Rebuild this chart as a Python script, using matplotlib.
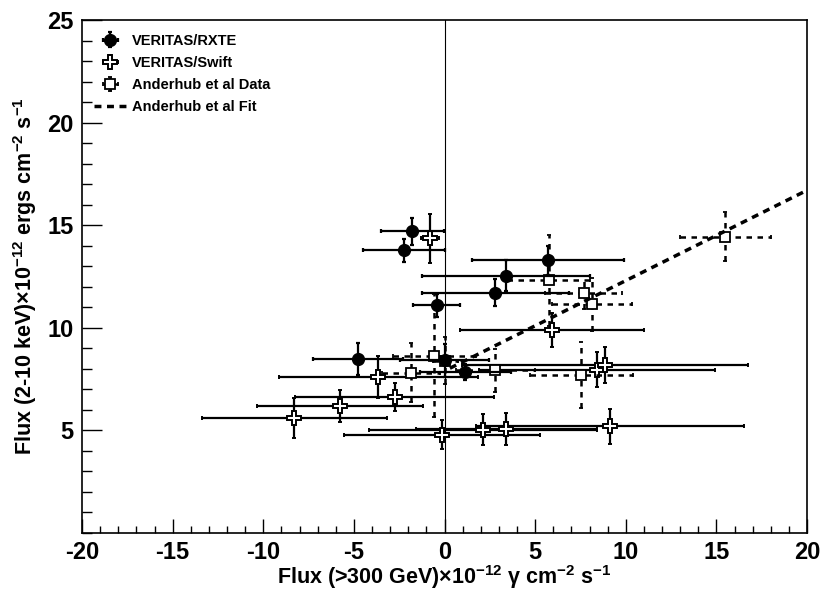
import matplotlib
matplotlib.use("Agg")
import matplotlib.pyplot as plt
from matplotlib.ticker import MultipleLocator

# VERITAS/RXTE (filled circles)
rxte_x = [-1.78, -2.24, -0.43, 5.70, 3.40, 2.80, -4.78, 0.00, 1.15]
rxte_y = [14.70, 13.79, 11.10, 13.28, 12.54, 11.72, 8.48, 8.42, 7.84]
rxte_xerr = [1.74, 2.28, 1.30, 4.20, 4.65, 4.05, 2.50, 2.45, 2.50]
rxte_yerr = [0.67, 0.56, 0.57, 0.70, 0.77, 0.68, 0.80, 0.80, 0.40]

# VERITAS/Swift (open crosses)
swift_x = [-0.80, 5.92, 8.43, 8.85, 9.14, 3.41, 2.12, -0.14, -8.28, -5.76, -2.75, -3.65]
swift_y = [14.37, 9.90, 7.96, 8.18, 5.20, 5.08, 5.03, 4.79, 5.61, 6.19, 6.63, 7.60]
swift_xerr = [0.50, 5.06, 6.50, 7.90, 7.40, 5.00, 6.30, 5.40, 5.10, 4.60, 5.50, 5.50]
swift_yerr = [1.20, 0.82, 0.85, 0.87, 0.85, 0.77, 0.76, 0.72, 0.97, 0.80, 0.68, 1.03]

# Anderhub et al data (open squares)
and_x = [15.50, 5.74, 7.67, 8.13, 7.55, 2.81, -1.87, -0.56, 0.05]
and_y = [14.44, 12.31, 11.72, 11.15, 7.71, 7.93, 7.81, 8.64, 8.40]
and_xerr = [2.50, 2.30, 2.10, 2.20, 2.85, 2.20, 1.60, 2.30, 0.70]
and_yerr = [1.20, 2.20, 0.80, 1.30, 1.60, 1.05, 1.45, 3.00, 1.15]

# Anderhub et al fit (end points of the line)
fit_x = [0.3, 20.0]
fit_y = [8.03, 16.70]

plt.rcParams["font.family"] = ["Liberation Sans", "DejaVu Sans"]
plt.rcParams["font.weight"] = "bold"
plt.rcParams["axes.unicode_minus"] = False
plt.rcParams["mathtext.fontset"] = "custom"
plt.rcParams["mathtext.rm"] = "Liberation Sans:bold"
plt.rcParams["mathtext.it"] = "Liberation Sans:bold"
plt.rcParams["mathtext.bf"] = "Liberation Sans:bold"

fig = plt.figure(figsize=(8.23, 5.90), dpi=100)
ax = fig.add_axes([82 / 823, 1 - 533 / 590, 725 / 823, 513 / 590])

ax.axvline(0, color="black", lw=0.8, zorder=1)

# Swift
sw = ax.errorbar(swift_x, swift_y, xerr=swift_xerr, yerr=swift_yerr, fmt="P",
                 ms=10.5, mfc="white", mec="black", mew=1.4, color="black",
                 elinewidth=1.6, capsize=1.5, capthick=1.6, zorder=3,
                 label="VERITAS/Swift")

# Anderhub data, dashed error bars
an = ax.errorbar(and_x, and_y, xerr=and_xerr, yerr=and_yerr, fmt="s",
                 ms=7.5, mfc="white", mec="black", mew=1.3, color="black",
                 elinewidth=1.8, capsize=1.5, capthick=1.6, zorder=4,
                 label="Anderhub et al Data")
for lc in an[2]:
    lc.set_linestyle((0, (2.2, 2.2)))

# RXTE
rx = ax.errorbar(rxte_x, rxte_y, xerr=rxte_xerr, yerr=rxte_yerr, fmt="o",
                 ms=8.5, color="black", elinewidth=1.6, capsize=1.5,
                 capthick=1.6, zorder=5, label="VERITAS/RXTE")

# Fit
fit_line, = ax.plot(fit_x, fit_y, color="black", lw=2.5, ls=(0, (2, 1.6)),
                    zorder=6, label="Anderhub et al Fit")

ax.set_xlim(-20, 20)
ax.set_ylim(0, 25)
ax.xaxis.set_major_locator(MultipleLocator(5))
ax.xaxis.set_minor_locator(MultipleLocator(1))
ax.set_yticks([5, 10, 15, 20, 25])
ax.yaxis.set_minor_locator(MultipleLocator(1))
ax.tick_params(axis="x", which="major", direction="in", length=10, width=1, labelsize=17, pad=6)
ax.tick_params(axis="x", which="minor", direction="in", length=5, width=1)
ax.tick_params(axis="y", which="major", direction="in", length=14.5, width=1, labelsize=17, pad=6)
ax.tick_params(axis="y", which="minor", direction="in", length=7, width=1)
for lab in ax.get_xticklabels() + ax.get_yticklabels():
    lab.set_fontweight("bold")
for s in ax.spines.values():
    s.set_linewidth(1.2)

ax.set_xlabel("Flux (>300 GeV)\u00d710$^{-12}$ $\\gamma$ cm$^{-2}$ s$^{-1}$",
              fontsize=15.5, fontweight="bold", labelpad=-1)
ax.set_ylabel("Flux (2-10 keV)\u00d710$^{-12}$ ergs cm$^{-2}$ s$^{-1}$",
              fontsize=15.5, fontweight="bold", labelpad=6)

leg = ax.legend([rx, sw, an, fit_line],
                ["VERITAS/RXTE", "VERITAS/Swift", "Anderhub et al Data", "Anderhub et al Fit"],
                loc="upper left", bbox_to_anchor=(0.005, 0.99), frameon=False,
                prop={"weight": "bold", "size": 10.5}, handlelength=2.2,
                handletextpad=0.4, labelspacing=0.55, borderaxespad=0.2)

fig.savefig("out.png", dpi=100)
